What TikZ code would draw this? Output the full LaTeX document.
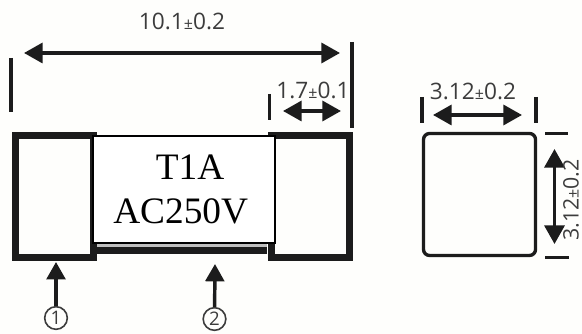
\documentclass[tikz,border=0pt]{standalone}
\usepackage{fontspec}
\setmainfont{Liberation Serif}
\newfontfamily\dimfont{Open Sans}
\usetikzlibrary{arrows.meta}
\definecolor{mypaper}{RGB}{254, 254, 252}
\definecolor{myink}{RGB}{28, 28, 28}
\definecolor{mydimtext}{RGB}{60, 60, 60}
\newcommand{\pmsmall}{{\fontsize{12}{12}\selectfont ±}}
\tikzset{
  every picture/.style={line width=0.75pt},
  capbox/.style={draw=myink,line width=5.25pt,fill=mypaper,minimum width=58.5pt,minimum height=91.5pt,inner sep=0pt},
  bodybox/.style={draw=black,line width=1.1pt,fill=white,minimum width=136.5pt,minimum height=80pt,inner sep=0pt,align=center,font=\fontsize{28}{32.5}\selectfont},
  sidebox/.style={draw=myink,line width=2.5pt,rounded corners=4.5pt,minimum width=84pt,minimum height=91.5pt,inner sep=0pt},
  dimline/.style={draw=myink,line width=2.6pt,{Triangle[length=14pt,width=15pt]}-{Triangle[length=14pt,width=15pt]}},
  tickline/.style={draw=myink,line width=2.4pt},
  partarrow/.style={draw=myink,line width=2.6pt,-{Triangle[length=13pt,width=14pt]}},
  dimtext/.style={text=mydimtext,font=\dimfont\fontsize{17}{17}\selectfont,inner sep=0pt},
  partnum/.style={draw=mydimtext,line width=1.2pt,circle,minimum size=17pt,inner sep=0pt,text=mydimtext,font=\dimfont\fontsize{14}{14}\selectfont},
}
\begin{document}
\begin{tikzpicture}[x=0.75pt,y=0.75pt,yscale=-1,xscale=1]
\useasboundingbox (0,0) rectangle (582,334);
\fill [mypaper] (0,0) rectangle (582,334);

%Main body with end caps
\node [capbox] (capleft) at (54.5,196.5) {};
\node [capbox] (capright) at (310,196.5) {};
\fill [myink] (97,247) rectangle (267,254);
\fill [black!25] (97,243) rectangle (267,247);
\node [bodybox] (body) at (184,189.5) {\hspace*{9pt}T1A\\AC250V\hspace*{5pt}};

%Side view
\node [sidebox] (side) at (479.5,194.5) {};

%Length
\coordinate (lenL) at (24,53);
\coordinate (lenR) at (340,53);
\draw [dimline] (lenL) -- (lenR);
\node [dimtext] (lenlabel) at (182,21) {10.1\pmsmall 0.2};
\coordinate (tickLa) at (11,58);
\coordinate (tickLb) at (11,112);
\draw [tickline] (tickLa) -- (tickLb);
\coordinate (tickRa) at (352,42);
\coordinate (tickRb) at (352,128);
\draw [tickline] (tickRa) -- (tickRb);

%Cap width
\coordinate (capdimL) at (283,111);
\coordinate (capdimR) at (341,111);
\draw [dimline] (capdimL) -- (capdimR);
\node [dimtext] (caplabel) at (313,90) {1.7\pmsmall 0.1};
\coordinate (tickCa) at (269.5,94);
\coordinate (tickCb) at (269.5,120);
\draw [tickline] (tickCa) -- (tickCb);

%Side width
\coordinate (sideL) at (433,115);
\coordinate (sideR) at (522,115);
\draw [dimline] (sideL) -- (sideR);
\node [dimtext] (sidelabel) at (473,91) {3.12\pmsmall 0.2};
\coordinate (tickSa) at (422,97);
\coordinate (tickSb) at (422,123);
\draw [tickline] (tickSa) -- (tickSb);
\coordinate (tickTa) at (536,97);
\coordinate (tickTb) at (536,123);
\draw [tickline] (tickTa) -- (tickTb);

%Side height
\coordinate (sideT) at (554.5,149);
\coordinate (sideB) at (554.5,244);
\draw [dimline] (sideT) -- (sideB);
\node [dimtext,rotate=90,anchor=base,font=\dimfont\fontsize{16}{16}\selectfont] (heightlabel) at (578.5,200) {3.12\pmsmall 0.2};
\coordinate (tickUa) at (545,133.5);
\coordinate (tickUb) at (568,133.5);
\draw [tickline] (tickUa) -- (tickUb);
\coordinate (tickVa) at (545,257.5);
\coordinate (tickVb) at (569,257.5);
\draw [tickline] (tickVa) -- (tickVb);

%Part numbers
\node [partnum] (numone) at (56,318) {1};
\node [partnum] (numtwo) at (214.5,319) {2};
\coordinate (tipone) at (56,262);
\coordinate (tiptwo) at (215,264);
\draw [partarrow] (numone) -- (tipone);
\draw [partarrow] (numtwo) -- (tiptwo);
\end{tikzpicture}
\end{document}
